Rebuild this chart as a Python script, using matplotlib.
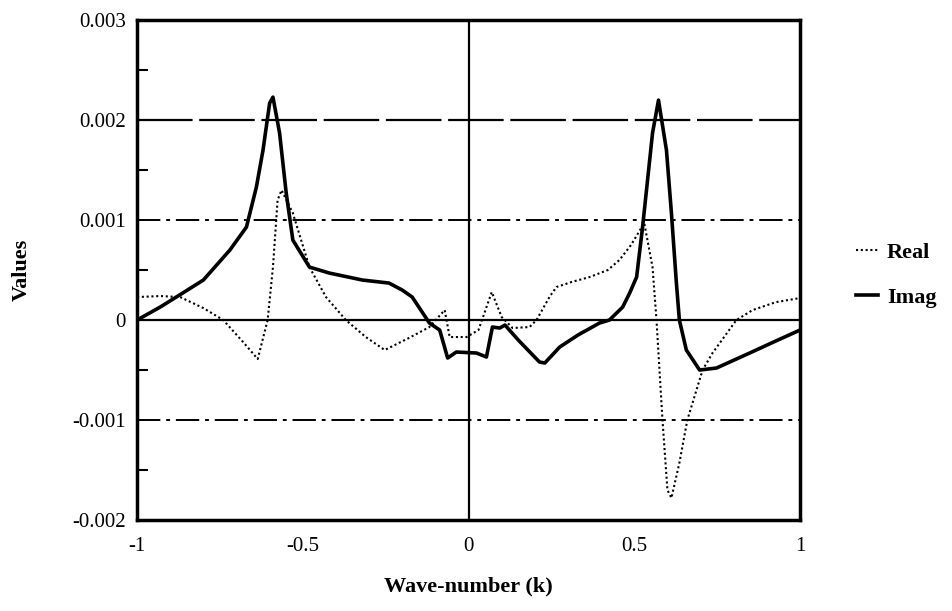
import matplotlib
matplotlib.use("Agg")
import matplotlib.pyplot as plt
import numpy as np

# Real part (dotted)
real_k = [-1.0, -0.93, -0.87, -0.80, -0.74, -0.68, -0.636, -0.606, -0.59, -0.576, -0.564,
          -0.53, -0.48, -0.43, -0.37, -0.31, -0.253, -0.18, -0.118, -0.072, -0.057,
          -0.006, 0.03, 0.07, 0.10, 0.133, 0.184, 0.205, 0.244, 0.265, 0.31, 0.365,
          0.42, 0.455, 0.49, 0.53, 0.555, 0.567, 0.585, 0.60, 0.612, 0.636, 0.66,
          0.706, 0.736, 0.808, 0.857, 0.928, 1.0]
real_v = [0.00023, 0.00024, 0.00023, 0.00012, 0.0, -0.00022, -0.00039, 0.0, 0.00053, 0.0012, 0.0013,
          0.00107, 0.00053, 0.00023, 0.0, -0.00017, -0.0003, -0.00018, -0.00007, 0.0001, -0.00017,
          -0.00017, -0.0001, 0.00028, 0.00003, -0.00008, -0.00007, 0.0, 0.00023, 0.00033, 0.00038, 0.00043,
          0.0005, 0.0006, 0.00075, 0.00097, 0.00053, 0.0, -0.001, -0.0017, -0.00178, -0.00143, -0.001,
          -0.0005, -0.00033, 0.0, 0.0001, 0.00018, 0.00022]

# Imaginary part (solid)
imag_k = [-1.0, -0.93, -0.872, -0.80, -0.72, -0.67, -0.64, -0.62, -0.60, -0.59, -0.57, -0.55,
          -0.53, -0.48, -0.42, -0.32, -0.24, -0.2, -0.17, -0.118, -0.087, -0.063, -0.037,
          0.024, 0.054, 0.072, 0.094, 0.11, 0.15, 0.214, 0.23, 0.275, 0.33, 0.395, 0.425,
          0.465, 0.486, 0.507, 0.525, 0.555, 0.573, 0.597, 0.612, 0.627, 0.636, 0.657,
          0.697, 0.748, 0.848, 0.92, 1.0]
imag_v = [0.0, 0.00013, 0.00025, 0.0004, 0.0007, 0.00093, 0.00133, 0.0017, 0.00217, 0.00223, 0.00187, 0.00127,
          0.0008, 0.00053, 0.00047, 0.0004, 0.00037, 0.0003, 0.00023, -0.00003, -0.0001, -0.00038, -0.00032,
          -0.00033, -0.00037, -0.00007, -0.00008, -0.00005, -0.0002, -0.00042, -0.00043, -0.00027, -0.00015, -0.00003, 0.0,
          0.00013, 0.00027, 0.00043, 0.00093, 0.00187, 0.0022, 0.0017, 0.00107, 0.00037, 0.0, -0.0003,
          -0.0005, -0.00048, -0.00033, -0.00022, -0.0001]

xticks = [-1, -0.5, 0, 0.5, 1]
xticklabels = ["-1", "-0.5", "0", "0.5", "1"]
yticks = [-0.002, -0.001, 0, 0.001, 0.002, 0.003]
yticklabels = ["-0.002", "-0.001", "0", "0.001", "0.002", "0.003"]

serif = ["Liberation Serif", "DejaVu Serif"]

fig = plt.figure(figsize=(9.53, 6.11), dpi=100)
ax = fig.add_axes([0.1438, 0.149, 0.6957, 0.818])

ax.axhline(0.002, color="black", lw=1.6, ls=(0, (25, 3)))
ax.axhline(0.001, color="black", lw=1.4, ls=(0, (12, 3, 2, 3)))
ax.axhline(-0.001, color="black", lw=1.4, ls=(0, (12, 3, 2, 3)))
ax.axhline(0, color="black", lw=1.6)
ax.axvline(0, color="black", lw=1.6)

ln_r, = ax.plot(real_k, real_v, color="black", lw=1.5, ls=(0, (1, 1.3)), label="Real")
ln_i, = ax.plot(imag_k, imag_v, color="black", lw=2.6, label="Imag")

ax.set_xlim(-1, 1)
ax.set_ylim(-0.002, 0.003)
ax.set_xticks(xticks)
ax.set_xticklabels(xticklabels, fontfamily=serif, fontsize=15)
ax.set_yticks(yticks)
ax.set_yticklabels(yticklabels, fontfamily=serif, fontsize=15)
ax.set_yticks(np.arange(-0.0015, 0.003, 0.001), minor=True)
ax.tick_params(axis="x", which="major", length=0, pad=12)
ax.tick_params(axis="y", which="major", length=0, pad=8)
ax.tick_params(axis="y", which="minor", direction="in", length=8, width=1.5)
for s in ax.spines.values():
    s.set_linewidth(2.5)

ax.set_xlabel("Wave-number (k)", fontfamily=serif, fontsize=16, fontweight="bold", labelpad=15)
ax.set_ylabel("Values", fontfamily=serif, fontsize=16, fontweight="bold", labelpad=29)

leg = fig.legend(handles=[ln_r, ln_i], loc="center left", bbox_to_anchor=(0.877, 0.55),
                 frameon=False, handlelength=1.0, handletextpad=0.4, labelspacing=1.1,
                 prop={"family": serif, "size": 16, "weight": "bold"})

fig.savefig("out.png", dpi=100)
